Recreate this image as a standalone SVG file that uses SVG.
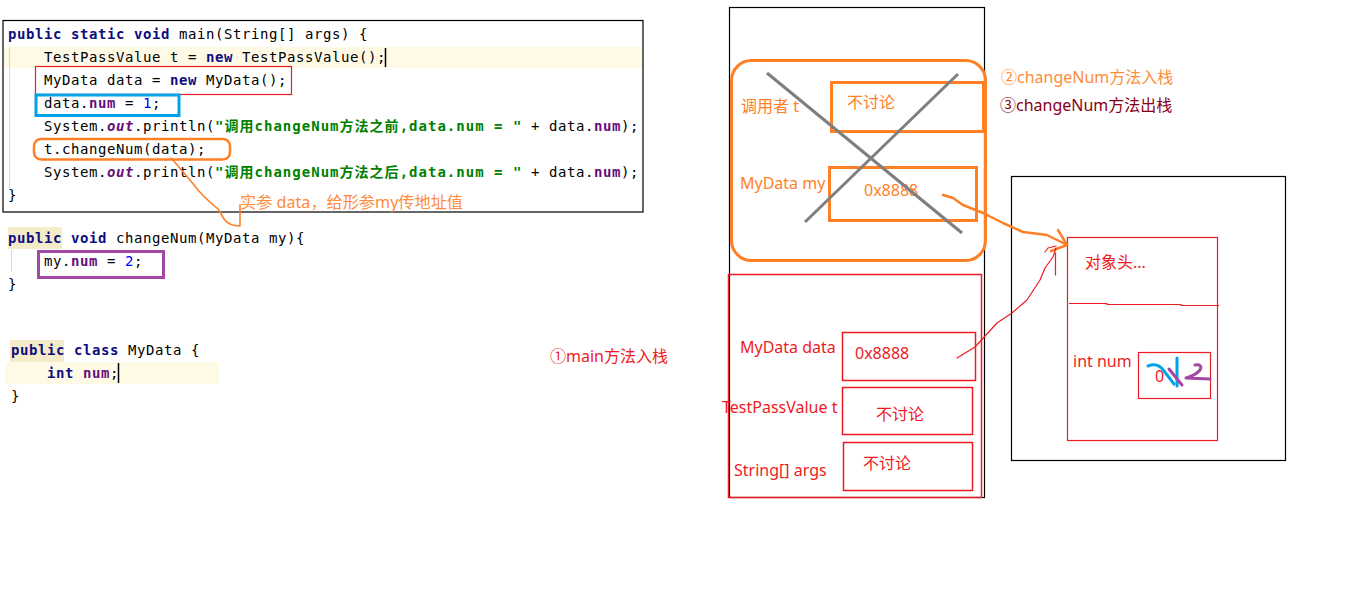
<svg xmlns="http://www.w3.org/2000/svg" width="1360" height="613" viewBox="0 0 1360 613">
<style>
.code{font-family:"DejaVu Sans Mono","Liberation Mono","Noto Sans CJK SC",monospace;font-size:14px;letter-spacing:0.57px;fill:#000}
.kw{font-weight:bold;fill:#0d0d80}
.fld{font-weight:bold;fill:#660e7a}
.st{font-weight:bold;fill:#008000}
.nm{fill:#0000ff}
.lbl{font-family:"Noto Sans","Noto Sans CJK SC",sans-serif;font-size:16px}
.org{fill:#ff7f27}
.red{fill:#ed1c24}
.box-o{fill:none;stroke:#ff7f27;stroke-width:3}
.box-r{fill:none;stroke:#ed1c24;stroke-width:1.5}
.blk{fill:none;stroke:#000;stroke-width:1.2}
.hl{fill:#fffae6}
.occ{fill:#f4ebc8}
.guide{stroke:#d8d8d8;stroke-width:1}
</style>
<rect width="1360" height="613" fill="#fff"/>

<!-- main() source listing -->
<g id="code-main">
  <rect class="hl" x="3" y="47" width="640" height="21"/>
  <line class="guide" x1="9.5" y1="47" x2="9.5" y2="188"/>
  <rect class="blk" x="3" y="20.5" width="640" height="191.5"/>
  <g class="code" xml:space="preserve">
    <text x="8" y="39"><tspan class="kw">public</tspan> <tspan class="kw">static</tspan> <tspan class="kw">void</tspan> main(String[] args) {</text>
    <text x="44" y="62">TestPassValue t = <tspan class="kw">new</tspan> TestPassValue();</text>
    <text x="44" y="85">MyData data = <tspan class="kw">new</tspan> MyData();</text>
    <text x="44" y="108">data.<tspan class="fld">num</tspan> = <tspan class="nm">1</tspan>;</text>
    <text x="44" y="131">System.<tspan class="fld" font-style="italic">out</tspan>.println(</text>
    <text x="44" y="154">t.changeNum(data);</text>
    <text x="44" y="177">System.<tspan class="fld" font-style="italic">out</tspan>.println(</text>
    <text x="8" y="200">}</text>
    <text x="531" y="131">+ data.<tspan class="fld">num</tspan>);</text>
    <text x="531" y="177">+ data.<tspan class="fld">num</tspan>);</text>
  </g>
  <text class="code st" x="215" y="131" textLength="307" lengthAdjust="spacing">"调用changeNum方法之前,data.num = "</text>
  <text class="code st" x="215" y="177" textLength="307" lengthAdjust="spacing">"调用changeNum方法之后,data.num = "</text>
  <line x1="385.5" y1="48" x2="385.5" y2="67" stroke="#000" stroke-width="1.5"/>
  <rect x="35.5" y="66.5" width="256" height="28" fill="none" stroke="#ed1c24" stroke-width="1.2"/>
  <rect x="36" y="95" width="143" height="20.5" fill="none" stroke="#00a2e8" stroke-width="3"/>
  <rect x="34" y="139" width="196" height="20.5" rx="7" fill="none" stroke="#ff7f27" stroke-width="2.5"/>
</g>

<!-- changeNum() source -->
<g id="code-changeNum">
  <rect class="occ" x="8" y="227" width="54" height="22"/>
  <line class="guide" x1="11.5" y1="250" x2="11.5" y2="272"/>
  <g class="code" xml:space="preserve">
    <text x="8" y="243"><tspan class="kw">public</tspan> <tspan class="kw">void</tspan> changeNum(MyData my){</text>
    <text x="44" y="266">my.<tspan class="fld">num</tspan> = <tspan class="nm">2</tspan>;</text>
    <text x="8" y="289">}</text>
  </g>
  <rect x="38.5" y="251.5" width="125" height="26" fill="none" stroke="#a349a4" stroke-width="3"/>
</g>

<!-- MyData class source -->
<g id="code-MyData">
  <rect class="occ" x="10" y="340" width="54" height="22"/>
  <rect class="hl" x="5" y="362" width="214" height="22"/>
  <g class="code" xml:space="preserve">
    <text x="11" y="355"><tspan class="kw">public</tspan> <tspan class="kw">class</tspan> MyData {</text>
    <text x="47" y="378"><tspan class="kw">int</tspan> <tspan class="fld">num</tspan>;</text>
    <text x="11" y="401">}</text>
  </g>
  <line x1="118.5" y1="363" x2="118.5" y2="383" stroke="#000" stroke-width="1.5"/>
</g>

<!-- annotation on the argument passing -->
<g id="note-arg">
  <text class="lbl" x="240" y="208" fill="#ff8c3c" textLength="223" lengthAdjust="spacingAndGlyphs">实参 data，给形参my传地址值</text>
</g>

<!-- stack area -->
<g id="stack">
  <rect class="blk" x="729.5" y="7.5" width="255" height="490"/>
</g>

<!-- changeNum frame (pushed then popped) -->
<g id="frame-changeNum">
  <rect class="box-o" x="731.5" y="60.5" width="254" height="200" rx="20"/>
  <rect class="box-o" x="831.5" y="82.5" width="152" height="49"/>
  <rect class="box-o" x="829.5" y="167.5" width="147" height="53"/>
  <text class="lbl org" x="741" y="112" font-size="15">调用者 t</text>
  <text class="lbl org" x="847" y="108">不讨论</text>
  <text class="lbl org" x="740" y="189">MyData my</text>
  <text class="lbl org" x="864" y="196">0x8888</text>
  <line x1="767" y1="73" x2="962" y2="233" stroke="#7f7f7f" stroke-width="3"/>
  <line x1="958" y1="74" x2="805" y2="222" stroke="#7f7f7f" stroke-width="3"/>
</g>

<!-- main frame -->
<g id="frame-main">
  <rect class="box-r" x="728.5" y="274.5" width="253" height="223"/>
  <rect class="box-r" x="842.5" y="332.5" width="133" height="48"/>
  <rect class="box-r" x="842.5" y="387.5" width="130" height="47"/>
  <rect class="box-r" x="843.5" y="442.5" width="129" height="48"/>
  <text class="lbl red" x="740" y="353">MyData data</text>
  <text class="lbl red" x="855" y="359">0x8888</text>
  <text class="lbl red" x="722" y="413">TestPassValue t</text>
  <text class="lbl red" x="876" y="420">不讨论</text>
  <text class="lbl red" x="734" y="476">String[] args</text>
  <text class="lbl red" x="863" y="469">不讨论</text>
</g>

<!-- heap area with the MyData object -->
<g id="heap">
  <rect class="blk" x="1011.5" y="176.5" width="274" height="284"/>
</g>
<g id="object-MyData">
  <rect x="1067.5" y="237.5" width="150" height="203" fill="none" stroke="#ed1c24" stroke-width="1.2"/>
  <polyline points="1069,303.5 1107,303.5 1107,304.5 1181,304.5 1181,305.5 1219,305.5" fill="none" stroke="#ed1c24" stroke-width="1.2"/>
  <text class="lbl red" x="1085" y="268" font-size="15">对象头...</text>
  <text class="lbl red" x="1073" y="367">int num</text>
  <rect x="1138.5" y="352.5" width="72" height="46" fill="none" stroke="#ed1c24" stroke-width="1.2"/>
  <text class="lbl red" x="1155" y="382" font-size="14">0</text>
  <path d="M1148,366 Q1158,362 1164,371 L1174,384" fill="none" stroke="#00a2e8" stroke-width="3" stroke-linecap="round"/>
  <line x1="1177" y1="358" x2="1177" y2="386" stroke="#00a2e8" stroke-width="3" stroke-linecap="round"/>
  <path d="M1169,369 L1182,385" fill="none" stroke="#a349a4" stroke-width="3" stroke-linecap="round"/>
  <path d="M1195,365 Q1203,364 1200,370 Q1196,375 1186,378 L1210,379" fill="none" stroke="#a349a4" stroke-width="3" stroke-linecap="round" stroke-linejoin="round"/>
</g>

<!-- step labels -->
<g id="steps">
  <text class="lbl" x="1001" y="83" fill="#ff8c3c">②changeNum方法入栈</text>
  <text class="lbl" x="1000" y="111" fill="#880015">③changeNum方法出栈</text>
  <text class="lbl red" x="550" y="362">①main方法入栈</text>
</g>

<!-- connectors -->
<g id="connectors" fill="none" stroke-linecap="round" stroke-linejoin="round">
  <path d="M171,158 C180,168 190,180 198,190 C205,198 212,204 218,209 L224,219 Q229,226 240,226 L240,205" stroke="#ff7f27" stroke-width="1.6"/>
  <path d="M943,195 L953,198 L963,205 L983,213 L1003,223 L1023,232 L1047,235 L1067,245" stroke="#ff7f27" stroke-width="2.5"/>
  <path d="M1058,230 L1067,245 L1051,251" stroke="#ff7f27" stroke-width="2.5"/>
  <path d="M957,358 L975,347 L997,323 L1012,313 L1027,300 L1040,280 L1045,268 L1053,257 L1056,248" stroke="#ed1c24" stroke-width="1.2"/>
  <path d="M1045,252 L1048,248 L1056,246" stroke="#ed1c24" stroke-width="1.2"/>
  <line x1="1055.5" y1="253" x2="1055.5" y2="275" stroke="#ed1c24" stroke-width="1.2"/>
</g>
</svg>
